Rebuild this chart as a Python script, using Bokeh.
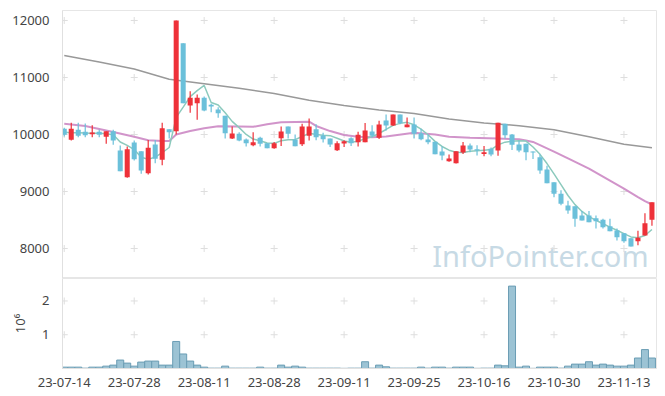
from bokeh.plotting import figure
from bokeh.layouts import column
from bokeh.models import Range1d, FixedTicker, Label, ColumnDataSource
from bokeh.embed import file_html
from bokeh.resources import INLINE

dates = ["2023-07-14", "2023-07-17", "2023-07-18", "2023-07-19", "2023-07-20", "2023-07-21",
         "2023-07-24", "2023-07-25", "2023-07-26", "2023-07-27", "2023-07-28",
         "2023-07-31", "2023-08-01", "2023-08-02", "2023-08-03", "2023-08-04",
         "2023-08-07", "2023-08-08", "2023-08-09", "2023-08-10", "2023-08-11",
         "2023-08-14", "2023-08-16", "2023-08-17", "2023-08-18",
         "2023-08-21", "2023-08-22", "2023-08-23", "2023-08-24", "2023-08-25",
         "2023-08-28", "2023-08-29", "2023-08-30", "2023-08-31", "2023-09-01",
         "2023-09-04", "2023-09-05", "2023-09-06", "2023-09-07", "2023-09-08",
         "2023-09-11", "2023-09-12", "2023-09-13", "2023-09-14", "2023-09-15",
         "2023-09-18", "2023-09-19", "2023-09-20", "2023-09-21", "2023-09-22",
         "2023-09-25", "2023-09-26", "2023-09-27", "2023-10-04", "2023-10-05", "2023-10-06",
         "2023-10-10", "2023-10-11", "2023-10-12", "2023-10-13",
         "2023-10-16", "2023-10-17", "2023-10-18", "2023-10-19", "2023-10-20",
         "2023-10-23", "2023-10-24", "2023-10-25", "2023-10-26", "2023-10-27",
         "2023-10-30", "2023-10-31", "2023-11-01", "2023-11-02", "2023-11-03",
         "2023-11-06", "2023-11-07", "2023-11-08", "2023-11-09", "2023-11-10",
         "2023-11-13", "2023-11-14", "2023-11-15", "2023-11-16", "2023-11-17"]

open_ = [10100, 9907, 10082, 10047, 10005, 10047, 9960, 10058, 9720, 9251,
         9860, 9707, 9322, 9825, 9555, 10090, 10058, 11600, 10509, 10549,
         10643, 10521, 10438, 10328, 9930, 10012, 9912, 9813, 9942, 9848,
         9760, 9935, 10140, 9907, 9830, 9977, 10094, 9982, 9930, 9725,
         9842, 9935, 9866, 9866, 10053, 9942, 10245, 10158, 10350, 10128,
         10175, 10023, 9912, 9871, 9702, 9532, 9497, 9684, 9807, 9742,
         9660, 9749, 9720, 10187, 10000, 9825, 9836, 9702, 9602, 9386,
         9164, 8960, 8754, 8743, 8579, 8579, 8532, 8503, 8392, 8316,
         8269, 8181, 8129, 8228, 8503]
high = [10120, 10205, 10205, 10195, 10160, 10085, 10058, 10082, 9805, 9790,
        9895, 9707, 9905, 9905, 10205, 10090, 12000, 11600, 10760, 10700,
        10667, 10538, 10480, 10328, 10140, 10040, 9930, 10040, 9960, 9848,
        9870, 10140, 10140, 10000, 10190, 10280, 10180, 10030, 9930, 9880,
        9900, 9950, 10050, 10200, 10160, 10240, 10350, 10350, 10350, 10300,
        10300, 10100, 10000, 9871, 9790, 9650, 9707, 9870, 9840, 9810,
        9800, 9770, 10205, 10187, 10010, 9890, 9836, 9702, 9650, 9450,
        9164, 9020, 8840, 8743, 8660, 8660, 8580, 8520, 8520, 8350,
        8269, 8181, 8310, 8620, 8813]
low = [9965, 9895, 9950, 9950, 9950, 9950, 9836, 9820, 9357, 9240,
       9544, 9310, 9298, 9497, 9460, 9930, 10000, 10549, 10380, 10260,
       10409, 10392, 10292, 9930, 9920, 9880, 9790, 9795, 9790, 9760,
       9750, 9800, 9930, 9795, 9800, 9895, 9900, 9860, 9780, 9710,
       9780, 9800, 9790, 9866, 9950, 9920, 10070, 10150, 10180, 10128,
       9930, 9900, 9830, 9655, 9550, 9520, 9490, 9660, 9690, 9630,
       9620, 9620, 9626, 9930, 9730, 9690, 9550, 9570, 9310, 9146,
       8900, 8760, 8610, 8380, 8491, 8462, 8350, 8350, 8304, 8140,
       8100, 8035, 8058, 8228, 8400]
close = [9995, 10100, 9977, 9988, 10035, 9995, 10058, 9895, 9357, 9742,
         9567, 9368, 9766, 9573, 10110, 10040, 12000, 10549, 10643, 10643,
         10421, 10491, 10374, 10023, 10018, 9895, 9848, 9866, 9836, 9760,
         9848, 10053, 10012, 9795, 10140, 10140, 9953, 9918, 9825, 9848,
         9883, 9848, 9994, 10070, 9977, 10175, 10158, 10350, 10198, 10175,
         10012, 9918, 9866, 9655, 9632, 9579, 9707, 9807, 9737, 9719,
         9690, 9649, 10205, 9988, 9819, 9719, 9690, 9684, 9368, 9146,
         8960, 8784, 8667, 8521, 8491, 8462, 8479, 8374, 8304, 8199,
         8129, 8035, 8187, 8444, 8813]
volume = [40000, 40000, 40000, 10000, 40000, 40000, 70000, 100000, 250000, 160000,
          70000, 190000, 220000, 220000, 100000, 100000, 800000, 430000, 220000, 100000,
          40000, 10000, 10000, 70000, 10000, 10000, 10000, 10000, 40000, 10000,
          10000, 100000, 40000, 70000, 40000, 10000, 10000, 10000, 10000, 10000,
          5000, 10000, 10000, 200000, 10000, 100000, 50000, 10000, 10000, 10000,
          10000, 40000, 10000, 40000, 40000, 10000, 40000, 40000, 40000, 5000,
          10000, 10000, 100000, 80000, 2440000, 40000, 70000, 5000, 40000, 40000,
          40000, 10000, 70000, 130000, 130000, 200000, 100000, 130000, 100000, 70000,
          70000, 100000, 310000, 560000, 310000]

ma5 = [10040, 10030, 10030, 10025, 10022, 10020, 10012, 9994, 9868, 9808,
       9735, 9600, 9565, 9603, 9680, 9772, 10300, 10480, 10665, 10770,
       10860, 10560, 10518, 10380, 10230, 10120, 10000, 9920, 9890, 9850,
       9845, 9890, 9908, 9910, 9965, 10020, 10000, 9985, 9980, 9935,
       9887, 9865, 9880, 9930, 9960, 10018, 10088, 10160, 10195, 10213,
       10170, 10095, 9995, 9880, 9790, 9725, 9690, 9683, 9705, 9715,
       9725, 9735, 9818, 9866, 9882, 9890, 9884, 9780, 9652, 9490,
       9310, 9120, 8930, 8770, 8650, 8560, 8495, 8435, 8375, 8320,
       8262, 8204, 8190, 8228, 8334]

ma20_idx = [0, 3, 7, 10, 12, 14, 15, 16, 18, 20, 22, 25, 27, 29, 31, 35, 36, 38, 40, 42,
            44, 46, 50, 53, 55, 58, 62, 65, 66, 67, 70, 72, 75, 78, 80, 82, 83, 84]
ma20 = [10187, 10150, 10045, 9960, 9900, 9885, 9885, 10000, 10060, 10110, 10145, 10140,
        10135, 10180, 10215, 10225, 10150, 10060, 9990, 9960, 9950, 9965, 10030, 10000,
        9960, 9945, 9930, 9915, 9895, 9870, 9700, 9580, 9400, 9190, 9050, 8900, 8830, 8772]

ma120_idx = [0, 5, 10, 15, 20, 25, 30, 35, 40, 45, 50, 55, 60, 65, 70, 75, 80, 84]
ma120 = [11386, 11270, 11150, 10970, 10890, 10810, 10720, 10600, 10510, 10430,
         10370, 10270, 10200, 10155, 10085, 9960, 9830, 9766]

price_ticks = [8000, 9000, 10000, 11000, 12000]
vol_ticks = [1000000, 2000000]
vol_tick_labels = ["1", "2"]
x_ticks = list(range(0, 81, 10))

FONT = "Noto Sans"
UP = "#ee3139"
DOWN = "#6bc0da"

idx = list(range(len(dates)))
colors = [UP if c > o else DOWN for o, c in zip(open_, close)]
src = ColumnDataSource(dict(
    x=idx, high=high, low=low,
    top=[max(o, c) for o, c in zip(open_, close)],
    bottom=[min(o, c) for o, c in zip(open_, close)],
    color=colors, vol=volume))

xr = Range1d(-0.25, 84.65)


def style(p):
    p.outline_line_color = "#e6e6e6"
    p.xgrid.visible = False
    p.ygrid.visible = False
    for ax in p.axis:
        ax.axis_line_color = "#e0e0e0"
        ax.major_tick_line_color = None
        ax.minor_tick_line_color = None
        ax.major_label_text_font = FONT
        ax.major_label_text_font_size = "13px"
        ax.major_label_text_color = "#444444"
    p.background_fill_color = "white"
    p.border_fill_color = "white"


p1 = figure(width=657, height=278, x_range=xr, y_range=Range1d(7474, 12175),
            output_backend="svg", toolbar_location=None, x_axis_location=None,
            min_border_left=62, min_border_right=1, min_border_top=10, min_border_bottom=0)
style(p1)
p1.yaxis.ticker = FixedTicker(ticks=price_ticks)
p1.yaxis.major_label_standoff = 7

gx = [x for x in x_ticks for _ in price_ticks]
gy = [y for _ in x_ticks for y in price_ticks]
p1.scatter(gx, gy, marker="cross", size=7, line_color="#dedede", line_width=1)

p1.add_layout(Label(x=586, y=4, x_units="screen", y_units="screen", text="InfoPointer.com",
                    text_align="right", text_baseline="bottom", text_font=FONT,
                    text_font_size="29px", text_color="#c7dae5", level="underlay"))

p1.line(ma120_idx, ma120, line_color="#999999", line_width=1.5)
p1.line(ma20_idx, ma20, line_color="#cc88c4", line_width=2, line_alpha=0.9)
p1.line(idx, ma5, line_color="#8ccabd", line_width=1.5)

p1.segment(x0="x", y0="high", x1="x", y1="low", line_color="color", line_width=1.2, source=src)
p1.vbar(x="x", top="top", bottom="bottom", width=0.72, fill_color="color",
        line_color=None, source=src)

p2 = figure(width=657, height=111, x_range=xr, y_range=Range1d(0, 2665000),
            output_backend="svg", toolbar_location=None,
            min_border_left=62, min_border_right=1, min_border_top=0, min_border_bottom=0)
style(p2)
p2.yaxis.ticker = FixedTicker(ticks=vol_ticks)
p2.yaxis.major_label_overrides = {t: l for t, l in zip(vol_ticks, vol_tick_labels)}
p2.yaxis.major_label_standoff = 7
p2.yaxis.axis_label = "10\u2076"
p2.yaxis.axis_label_text_font = FONT
p2.yaxis.axis_label_text_font_size = "13px"
p2.yaxis.axis_label_text_font_style = "normal"
p2.yaxis.axis_label_text_color = "#444444"
p2.yaxis.axis_label_standoff = 10
p2.xaxis.ticker = FixedTicker(ticks=x_ticks)
p2.xaxis.major_label_overrides = {t: dates[t][2:] for t in x_ticks}
p2.xaxis.major_label_standoff = 3

vgx = [x for x in x_ticks for _ in vol_ticks]
vgy = [y for _ in x_ticks for y in vol_ticks]
p2.scatter(vgx, vgy, marker="cross", size=7, line_color="#dedede", line_width=1)
p2.vbar(x="x", top="vol", bottom=0, width=1.0, fill_color="#9cc3d4",
        line_color="#6b9db4", line_width=1, source=src)

layout = column(p1, p2, spacing=0)
open("out.html", "w").write(file_html(layout, INLINE))
